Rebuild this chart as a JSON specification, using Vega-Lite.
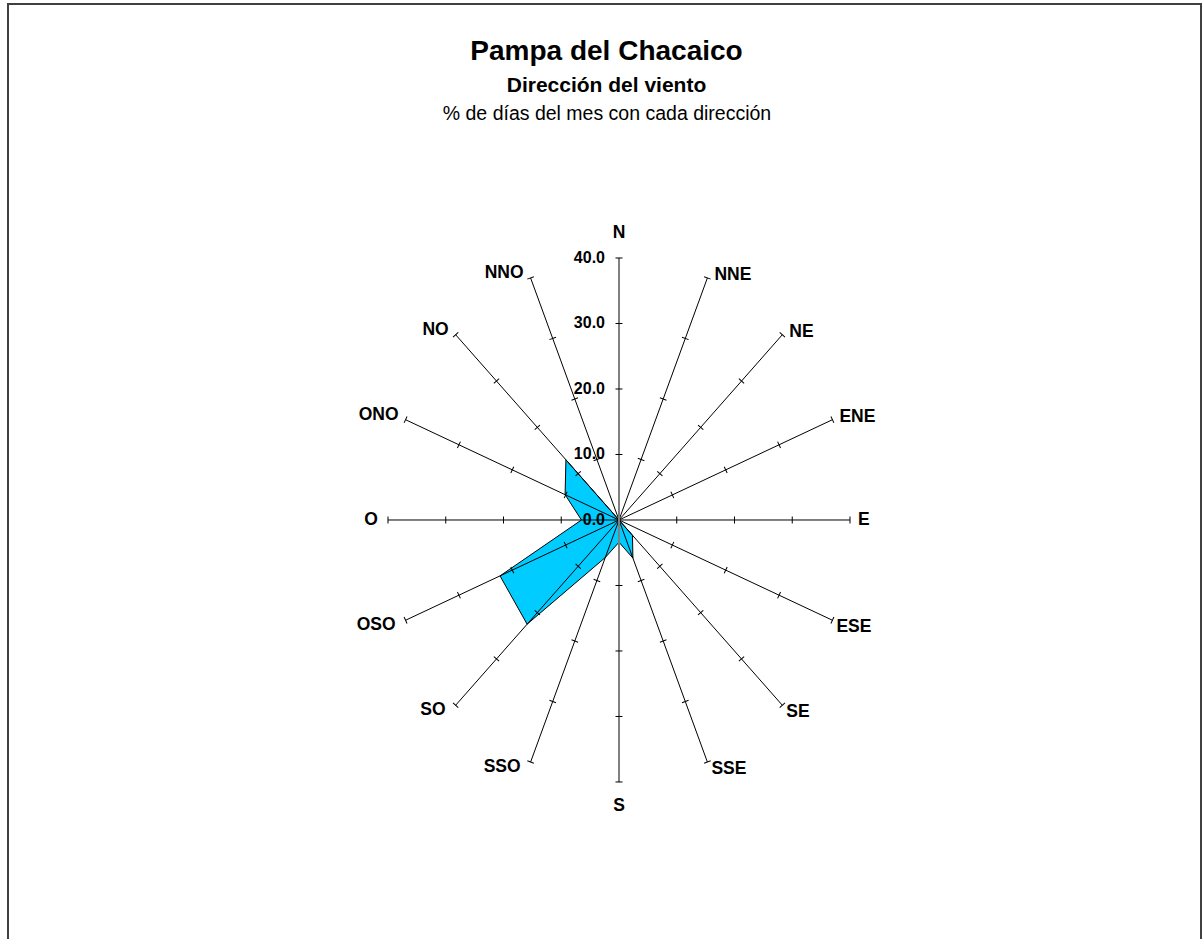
{
  "$schema": "https://vega.github.io/schema/vega-lite/v6.json",
  "width": 1193,
  "height": 941,
  "autosize": {"type": "none"},
  "padding": {"left": 8, "top": 4, "right": 1, "bottom": -6},
  "background": "white",
  "config": {
    "font": "Liberation Sans",
    "view": {"stroke": "#404040", "strokeWidth": 2},
    "text": {"font": "Liberation Sans", "color": "black"}
  },
  "title": {
    "text": "Pampa del Chacaico",
    "subtitle": "Dirección del viento",
    "font": "Liberation Sans",
    "fontSize": 28,
    "fontWeight": "bold",
    "color": "black",
    "subtitleFont": "Liberation Sans",
    "subtitleFontSize": 21,
    "subtitleFontWeight": "bold",
    "subtitleColor": "black",
    "subtitlePadding": 9.5,
    "anchor": "middle",
    "frame": "group",
    "offset": -92.4,
    "dx": 2
  },
  "datasets": {
    "wind": [
      {"dir": "N", "deg": 0, "value": 0, "ticks": [10, 20, 30, 40]},
      {"dir": "NNE", "deg": 22.5, "value": 0, "ticks": [10, 20, 30, 40]},
      {"dir": "NE", "deg": 45, "value": 0, "ticks": [10, 20, 30, 40]},
      {"dir": "ENE", "deg": 67.5, "value": 0, "ticks": [10, 20, 30, 40]},
      {"dir": "E", "deg": 90, "value": 0, "ticks": [10, 20, 30, 40]},
      {"dir": "ESE", "deg": 112.5, "value": 0, "ticks": [10, 20, 30, 40]},
      {"dir": "SE", "deg": 135, "value": 3.3, "ticks": [10, 20, 30, 40]},
      {"dir": "SSE", "deg": 157.5, "value": 6.3, "ticks": [10, 20, 30, 40]},
      {"dir": "S", "deg": 180, "value": 3.4, "ticks": [10, 20, 30, 40]},
      {"dir": "SSO", "deg": 202.5, "value": 6.2, "ticks": [10, 20, 30, 40]},
      {"dir": "SO", "deg": 225, "value": 22.5, "ticks": [10, 20, 30, 40]},
      {"dir": "OSO", "deg": 247.5, "value": 22.3, "ticks": [10, 20, 30, 40]},
      {"dir": "O", "deg": 270, "value": 6.5, "ticks": [10, 20, 30, 40]},
      {"dir": "ONO", "deg": 292.5, "value": 10.1, "ticks": [10, 20, 30, 40]},
      {"dir": "NO", "deg": 315, "value": 13.0, "ticks": [10, 20, 30, 40]},
      {"dir": "NNO", "deg": 337.5, "value": 0, "ticks": [10, 20, 30, 40]}
    ],
    "scaleLabels": [{"v": 0}, {"v": 10}, {"v": 20}, {"v": 30}, {"v": 40}]
  },
  "layer": [
    {
      "data": {"name": "wind"},
      "transform": [
        {"calculate": "datum.value*sin(datum.deg*PI/180)", "as": "px"},
        {"calculate": "datum.value*cos(datum.deg*PI/180)", "as": "py"}
      ],
      "mark": {"type": "line", "interpolate": "linear-closed", "fill": "#00CCFF", "stroke": "black", "strokeWidth": 1, "fillOpacity": 1},
      "encoding": {
        "x": {"field": "px", "type": "quantitative",
              "scale": {"domain": [-105.8, 100.78], "nice": false, "zero": false}, "axis": null},
        "y": {"field": "py", "type": "quantitative",
              "scale": {"domain": [-64.89, 78.78], "nice": false, "zero": false}, "axis": null},
        "order": {"field": "deg", "type": "quantitative"}
      }
    },
    {
      "data": {"name": "wind"},
      "transform": [
        {"filter": "datum.deg != 0 && datum.deg != 180"},
        {"calculate": "40*sin(datum.deg*PI/180)", "as": "ex"},
        {"calculate": "40*cos(datum.deg*PI/180)", "as": "ey"}
      ],
      "mark": {"type": "rule", "color": "black", "strokeWidth": 1},
      "encoding": {
        "x": {"field": "ex", "type": "quantitative", "axis": null},
        "y": {"field": "ey", "type": "quantitative", "axis": null},
        "x2": {"datum": 0},
        "y2": {"datum": 0}
      }
    },
    {
      "data": {"values": [{}]},
      "mark": {"type": "rule", "color": "#808080", "strokeWidth": 2},
      "encoding": {
        "x": {"datum": 0, "type": "quantitative", "axis": null},
        "y": {"datum": -40, "type": "quantitative", "axis": null},
        "y2": {"datum": 40}
      }
    },
    {
      "data": {"name": "wind"},
      "transform": [
        {"flatten": ["ticks"]},
        {"calculate": "datum.ticks*sin(datum.deg*PI/180)", "as": "tx"},
        {"calculate": "datum.ticks*cos(datum.deg*PI/180)", "as": "ty"},
        {"calculate": "atan2(231*sin(datum.deg*PI/180), 262*cos(datum.deg*PI/180))*180/PI", "as": "ang"}
      ],
      "mark": {"type": "point", "shape": "stroke", "size": 49, "strokeWidth": 1, "color": "black", "filled": false, "opacity": 1},
      "encoding": {
        "x": {"field": "tx", "type": "quantitative", "axis": null},
        "y": {"field": "ty", "type": "quantitative", "axis": null},
        "angle": {"field": "ang", "type": "quantitative", "scale": null}
      }
    },
    {
      "data": {"name": "scaleLabels"},
      "mark": {"type": "text", "align": "right", "baseline": "middle", "dx": -14, "fontSize": 16, "fontWeight": "bold", "color": "black"},
      "encoding": {
        "x": {"datum": 0, "type": "quantitative", "axis": null},
        "y": {"field": "v", "type": "quantitative", "axis": null},
        "text": {"field": "v", "type": "quantitative", "format": ".1f"}
      }
    },
    {
      "data": {"values": [{"t": "% de días del mes con cada dirección"}]},
      "mark": {"type": "text", "align": "center", "baseline": "alphabetic", "fontSize": 19.5, "fontWeight": "normal", "color": "black"},
      "encoding": {
        "x": {"datum": -2.08, "type": "quantitative", "axis": null},
        "y": {"datum": 61.07, "type": "quantitative", "axis": null},
        "text": {"field": "t"}
      }
    },
    {
      "data": {"name": "wind"},
      "transform": [
        {"filter": "datum.dir == 'N'"},
        {"calculate": "40*sin(datum.deg*PI/180)", "as": "lx"},
        {"calculate": "40*cos(datum.deg*PI/180)", "as": "ly"}
      ],
      "mark": {"type": "text", "align": "center", "baseline": "middle", "dy": -25, "fontSize": 17.5, "fontWeight": "bold", "color": "black"},
      "encoding": {
        "x": {"field": "lx", "type": "quantitative", "axis": null},
        "y": {"field": "ly", "type": "quantitative", "axis": null},
        "text": {"field": "dir"}
      }
    },
    {
      "data": {"name": "wind"},
      "transform": [
        {"filter": "datum.dir == 'S'"},
        {"calculate": "40*sin(datum.deg*PI/180)", "as": "lx"},
        {"calculate": "40*cos(datum.deg*PI/180)", "as": "ly"}
      ],
      "mark": {"type": "text", "align": "center", "baseline": "middle", "dy": 24, "fontSize": 17.5, "fontWeight": "bold", "color": "black"},
      "encoding": {
        "x": {"field": "lx", "type": "quantitative", "axis": null},
        "y": {"field": "ly", "type": "quantitative", "axis": null},
        "text": {"field": "dir"}
      }
    },
    {
      "data": {"name": "wind"},
      "transform": [
        {"filter": "indexof(['NNE','NE','ENE'], datum.dir) >= 0"},
        {"calculate": "40*sin(datum.deg*PI/180)", "as": "lx"},
        {"calculate": "40*cos(datum.deg*PI/180)", "as": "ly"}
      ],
      "mark": {"type": "text", "align": "left", "baseline": "middle", "dx": 7, "dy": -3, "fontSize": 17.5, "fontWeight": "bold", "color": "black"},
      "encoding": {
        "x": {"field": "lx", "type": "quantitative", "axis": null},
        "y": {"field": "ly", "type": "quantitative", "axis": null},
        "text": {"field": "dir"}
      }
    },
    {
      "data": {"name": "wind"},
      "transform": [
        {"filter": "datum.dir == 'E'"},
        {"calculate": "40*sin(datum.deg*PI/180)", "as": "lx"},
        {"calculate": "40*cos(datum.deg*PI/180)", "as": "ly"}
      ],
      "mark": {"type": "text", "align": "left", "baseline": "middle", "dx": 8, "fontSize": 17.5, "fontWeight": "bold", "color": "black"},
      "encoding": {
        "x": {"field": "lx", "type": "quantitative", "axis": null},
        "y": {"field": "ly", "type": "quantitative", "axis": null},
        "text": {"field": "dir"}
      }
    },
    {
      "data": {"name": "wind"},
      "transform": [
        {"filter": "indexof(['ESE','SE','SSE'], datum.dir) >= 0"},
        {"calculate": "40*sin(datum.deg*PI/180)", "as": "lx"},
        {"calculate": "40*cos(datum.deg*PI/180)", "as": "ly"}
      ],
      "mark": {"type": "text", "align": "left", "baseline": "middle", "dx": 4, "dy": 7, "fontSize": 17.5, "fontWeight": "bold", "color": "black"},
      "encoding": {
        "x": {"field": "lx", "type": "quantitative", "axis": null},
        "y": {"field": "ly", "type": "quantitative", "axis": null},
        "text": {"field": "dir"}
      }
    },
    {
      "data": {"name": "wind"},
      "transform": [
        {"filter": "indexof(['NNO','NO','ONO'], datum.dir) >= 0"},
        {"calculate": "40*sin(datum.deg*PI/180)", "as": "lx"},
        {"calculate": "40*cos(datum.deg*PI/180)", "as": "ly"}
      ],
      "mark": {"type": "text", "align": "right", "baseline": "middle", "dx": -7, "dy": -5, "fontSize": 17.5, "fontWeight": "bold", "color": "black"},
      "encoding": {
        "x": {"field": "lx", "type": "quantitative", "axis": null},
        "y": {"field": "ly", "type": "quantitative", "axis": null},
        "text": {"field": "dir"}
      }
    },
    {
      "data": {"name": "wind"},
      "transform": [
        {"filter": "datum.dir == 'O'"},
        {"calculate": "40*sin(datum.deg*PI/180)", "as": "lx"},
        {"calculate": "40*cos(datum.deg*PI/180)", "as": "ly"}
      ],
      "mark": {"type": "text", "align": "right", "baseline": "middle", "dx": -10, "fontSize": 17.5, "fontWeight": "bold", "color": "black"},
      "encoding": {
        "x": {"field": "lx", "type": "quantitative", "axis": null},
        "y": {"field": "ly", "type": "quantitative", "axis": null},
        "text": {"field": "dir"}
      }
    },
    {
      "data": {"name": "wind"},
      "transform": [
        {"filter": "indexof(['OSO','SO','SSO'], datum.dir) >= 0"},
        {"calculate": "40*sin(datum.deg*PI/180)", "as": "lx"},
        {"calculate": "40*cos(datum.deg*PI/180)", "as": "ly"}
      ],
      "mark": {"type": "text", "align": "right", "baseline": "middle", "dx": -10, "dy": 5, "fontSize": 17.5, "fontWeight": "bold", "color": "black"},
      "encoding": {
        "x": {"field": "lx", "type": "quantitative", "axis": null},
        "y": {"field": "ly", "type": "quantitative", "axis": null},
        "text": {"field": "dir"}
      }
    }
  ]
}
